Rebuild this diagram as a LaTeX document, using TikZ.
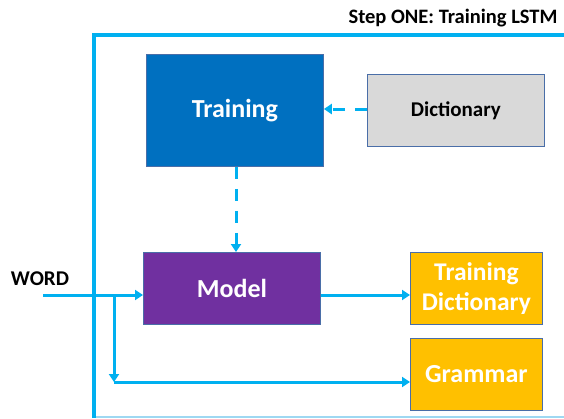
\documentclass[tikz,border=0pt]{standalone}
\usepackage{fontspec}
\setmainfont{Carlito}
\usetikzlibrary{arrows.meta}
\definecolor{cyanline}{HTML}{00B0F0}
\definecolor{trainblue}{HTML}{0070C0}
\definecolor{modelpurple}{HTML}{7030A0}
\definecolor{gold}{HTML}{FFC000}
\definecolor{lightgrey}{HTML}{D9D9D9}
\definecolor{edgeblue}{HTML}{4A6EA8}
\definecolor{framelight}{HTML}{9ED8F2}
\tikzset{
  box/.style={draw=edgeblue, line width=0.8pt, anchor=north west, inner sep=0pt, align=center, font=\bfseries},
  conn/.style={draw=cyanline, line width=3pt, -{Triangle[length=8pt,width=10pt]}},
  dconn/.style={conn, dash pattern=on 12pt off 10pt},
}
\begin{document}
\begin{tikzpicture}[x=1pt,y=-1pt]
\useasboundingbox (0,0) rectangle (564,418);
% frame
\draw[framelight, line width=2pt] (94,417) -- (570,417);
\draw[cyanline, line width=4pt] (94,418) -- (94,35) -- (570,35);
\node[font=\bfseries\fontsize{20.5}{22}\selectfont, anchor=east] (title) at (561,18) {Step ONE: Training LSTM};
% boxes
\node[box, fill=trainblue, text=white, minimum width=177pt, minimum height=112pt, font=\bfseries\fontsize{26}{28}\selectfont] (train) at (146,54) {Training};
\node[box, fill=lightgrey, text=black, minimum width=177pt, minimum height=72pt, font=\bfseries\fontsize{21}{24}\selectfont] (dict) at (367,74) {Dictionary};
\node[box, fill=modelpurple, text=white, minimum width=177pt, minimum height=72pt, font=\bfseries\fontsize{26}{28}\selectfont] (model) at (143,252) {Model};
\node[box, fill=gold, text=white, minimum width=132pt, minimum height=72pt, font=\bfseries\fontsize{25.5}{30}\selectfont] (tdict) at (410,252) {Training\\Dictionary};
\node[box, fill=gold, text=white, minimum width=132pt, minimum height=72pt, font=\bfseries\fontsize{26}{28}\selectfont] (gram) at (410,338) {Grammar};
\node[font=\bfseries\fontsize{21}{23}\selectfont] (word) at (40,279) {WORD};
\coordinate (win) at (43,295);
\coordinate (split) at (114,295);
\coordinate (corner) at (114,382);
% connectors
\draw[dconn] (dict.west |- 0,109) -- (train.east |- 0,109);
\draw[dconn] (train.south -| 236,0) -- (model.north -| 236,0);
\draw[conn] (win) -- (model.west |- win);
\draw[conn] (model.east |- win) -- (tdict.west |- win);
\draw[conn] (split) -- (corner);
\draw[conn] (corner) -- (gram.west |- corner);
\end{tikzpicture}
\end{document}
